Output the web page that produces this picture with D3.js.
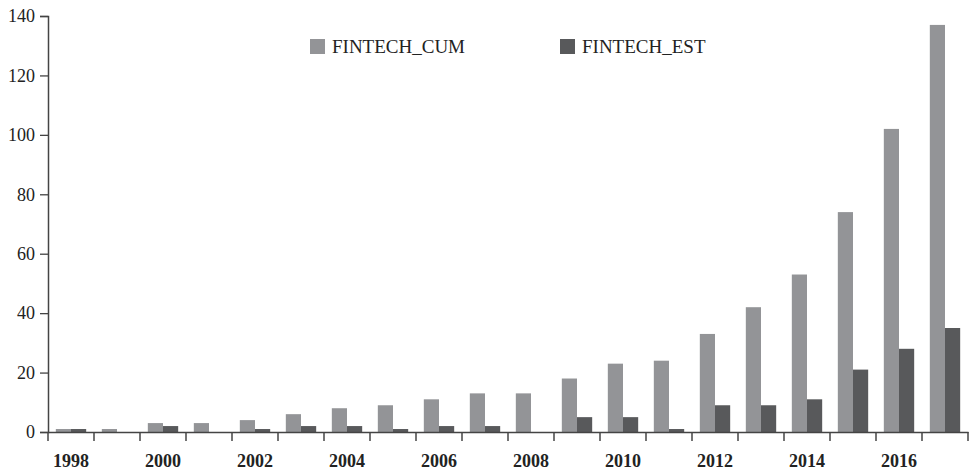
<!DOCTYPE html>
<html>
  <head>
    <meta charset="UTF-8">
    <title>FINTECH</title>
    <script src="https://d3js.org/d3.v7.min.js"></script>
    <style>
      body { margin: 0; background: #fff; }
      text { font-family: "Liberation Serif", "DejaVu Serif", serif; fill: #222; }
    </style>
  </head>
  <body>
    <div id="chart"></div>
    <script>
      // data
      const years = [1998, 1999, 2000, 2001, 2002, 2003, 2004, 2005, 2006, 2007,
                     2008, 2009, 2010, 2011, 2012, 2013, 2014, 2015, 2016, 2017];
      const fintechCum = [1, 1, 3, 3, 4, 6, 8, 9, 11, 13, 13, 18, 23, 24, 33, 42, 53, 74, 102, 137];
      const fintechEst = [1, 0, 2, 0, 1, 2, 2, 1, 2, 2, 0, 5, 5, 1, 9, 9, 11, 21, 28, 35];
      const seriesNames = ["FINTECH_CUM", "FINTECH_EST"];
      const yTicks = [0, 20, 40, 60, 80, 100, 120, 140];
      const colors = ["#939497", "#58595b"];

      const width = 970, height = 475;
      const margin = {top: 16, right: 2, bottom: 43, left: 48};
      const innerW = width - margin.left - margin.right;
      const innerH = height - margin.top - margin.bottom;

      const svg = d3.select("#chart").append("svg")
        .attr("width", width)
        .attr("height", height);
      const g = svg.append("g").attr("transform", `translate(${margin.left},${margin.top})`);

      const x0 = d3.scaleBand().domain(years).range([0, innerW]).padding(0);
      const x1 = d3.scaleBand().domain(seriesNames)
        .range([x0.bandwidth() * 0.17, x0.bandwidth() * 0.83]);
      const y = d3.scaleLinear().domain([0, 140]).range([innerH, 0]);

      const rows = years.map((yr, i) => ({year: yr, vals: [fintechCum[i], fintechEst[i]]}));

      // bars
      const groups = g.selectAll(".yr").data(rows).enter().append("g")
        .attr("transform", d => `translate(${x0(d.year)},0)`);
      groups.selectAll("rect")
        .data(d => d.vals.map((v, k) => ({name: seriesNames[k], v: v, k: k})))
        .enter().append("rect")
        .attr("x", d => x1(d.name))
        .attr("width", x1.bandwidth())
        .attr("y", d => y(d.v))
        .attr("height", d => innerH - y(d.v))
        .attr("fill", d => colors[d.k]);

      // y axis
      const yAxis = g.append("g")
        .call(d3.axisLeft(y).tickValues(yTicks).tickSize(8).tickPadding(5));
      yAxis.select(".domain").attr("stroke", "#444").attr("stroke-width", 1.5);
      yAxis.selectAll(".tick line").attr("stroke", "#444").attr("stroke-width", 1.3);
      yAxis.selectAll("text").style("font-size", "18px").attr("fill", "#222");

      // x axis: labels every other year, ticks at band edges
      const xAxis = g.append("g").attr("transform", `translate(0,${innerH})`)
        .call(d3.axisBottom(x0).tickSize(0).tickPadding(22)
          .tickFormat(d => (d - 1998) % 2 === 0 ? d : ""));
      xAxis.select(".domain").attr("stroke", "#444").attr("stroke-width", 1.5);
      xAxis.selectAll("text").style("font-size", "18px").style("font-weight", "bold").attr("fill", "#222");
      const edges = years.map(d => x0(d)).concat([x0.range()[1]]);
      xAxis.selectAll(".edge").data(edges).enter().append("line")
        .attr("x1", d => d).attr("x2", d => d)
        .attr("y1", 0).attr("y2", 9)
        .attr("stroke", "#444").attr("stroke-width", 1.5);

      // legend
      const legend = svg.append("g").attr("transform", "translate(310,39)");
      const legendX = [0, 250];
      seriesNames.forEach((name, k) => {
        const item = legend.append("g").attr("transform", `translate(${legendX[k]},0)`);
        item.append("rect").attr("width", 15).attr("height", 15).attr("fill", colors[k]);
        item.append("text").attr("x", 22).attr("y", 14)
          .style("font-size", "19px").text(name);
      });
    </script>
  </body>
</html>
